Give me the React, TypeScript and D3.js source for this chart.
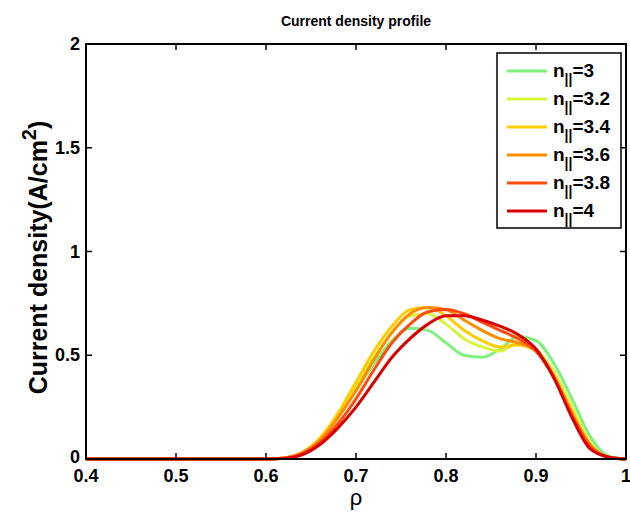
import React from "react";
import * as d3 from "d3";

const rho = [0.4, 0.6, 0.62, 0.64, 0.66, 0.68, 0.7, 0.72, 0.74, 0.76, 0.78, 0.8, 0.82, 0.84, 0.86, 0.88, 0.9, 0.92, 0.94, 0.96, 0.98, 1.0];

const nLabels = ["3", "3.2", "3.4", "3.6", "3.8", "4"];
const colors = ["#7ef07e", "#d8f53c", "#ffcc00", "#ff8c00", "#ff4a10", "#d80000"];

const j30 = [0, 0, 0.005, 0.03, 0.1, 0.2, 0.33, 0.46, 0.57, 0.63, 0.62, 0.56, 0.5, 0.49, 0.53, 0.59, 0.57, 0.46, 0.29, 0.11, 0.015, 0];
const j32 = [0, 0, 0.005, 0.03, 0.1, 0.21, 0.35, 0.49, 0.61, 0.69, 0.7, 0.65, 0.58, 0.54, 0.52, 0.56, 0.53, 0.42, 0.25, 0.08, 0.01, 0];
const j34 = [0, 0, 0.005, 0.03, 0.1, 0.22, 0.37, 0.52, 0.64, 0.72, 0.73, 0.69, 0.62, 0.57, 0.54, 0.55, 0.52, 0.4, 0.23, 0.07, 0.01, 0];
const j36 = [0, 0, 0.005, 0.03, 0.09, 0.2, 0.33, 0.48, 0.61, 0.7, 0.73, 0.72, 0.67, 0.62, 0.58, 0.56, 0.52, 0.4, 0.22, 0.07, 0.01, 0];
const j38 = [0, 0, 0.004, 0.025, 0.08, 0.17, 0.29, 0.43, 0.56, 0.65, 0.71, 0.72, 0.7, 0.66, 0.62, 0.58, 0.52, 0.39, 0.21, 0.06, 0.01, 0];
const j40 = [0, 0, 0.003, 0.02, 0.07, 0.15, 0.25, 0.37, 0.49, 0.58, 0.65, 0.69, 0.69, 0.67, 0.64, 0.6, 0.53, 0.39, 0.2, 0.05, 0.01, 0];
const series = [j30, j32, j34, j36, j38, j40];

const xTicks = [0.4, 0.5, 0.6, 0.7, 0.8, 0.9, 1];
const yTicks = [0, 0.5, 1, 1.5, 2];

const W = 630, H = 518;
const L = 86, R = 626, T = 44, B = 459;

export default function App() {
  const x = d3.scaleLinear().domain([0.4, 1]).range([L, R]);
  const y = d3.scaleLinear().domain([0, 2]).range([B, T]);
  const line = d3.line<number>().x((_, i) => x(rho[i])).y(d => y(d)).curve(d3.curveMonotoneX);
  const font = "Liberation Sans, Arial, sans-serif";
  const legX = 497, legY = 53, legW = 124, legH = 175, rowH = 28;
  return (
    <svg width={W} height={H} style={{ position: "absolute", left: 0, top: 0 }} fontFamily={font}>
      <rect x={0} y={0} width={W} height={H} fill="#fff" />
      <text x={(L + R) / 2} y={26} textAnchor="middle" fontSize={14} fontWeight="bold">Current density profile</text>
      {series.map((s, k) => (
        <path key={k} d={line(s) || ""} fill="none" stroke={colors[k]} strokeWidth={3} strokeLinejoin="round" />
      ))}
      <rect x={L} y={T} width={R - L} height={B - T} fill="none" stroke="#000" strokeWidth={2} />
      {xTicks.map(t => (
        <g key={"x" + t}>
          <line x1={x(t)} x2={x(t)} y1={B} y2={B - 6} stroke="#000" strokeWidth={1.5} />
          <line x1={x(t)} x2={x(t)} y1={T} y2={T + 6} stroke="#000" strokeWidth={1.5} />
          <text x={x(t)} y={B + 23} textAnchor="middle" fontSize={18} fontWeight="bold">{String(t)}</text>
        </g>
      ))}
      {yTicks.map(t => (
        <g key={"y" + t}>
          <line x1={L} x2={L + 6} y1={y(t)} y2={y(t)} stroke="#000" strokeWidth={1.5} />
          <line x1={R} x2={R - 6} y1={y(t)} y2={y(t)} stroke="#000" strokeWidth={1.5} />
          <text x={L - 6} y={y(t) + (t === 0 ? 4 : 6)} textAnchor="end" fontSize={18} fontWeight="bold">{String(t)}</text>
        </g>
      ))}
      <text x={(L + R) / 2} y={505} textAnchor="middle" fontSize={22}>ρ</text>
      <text transform={`translate(47,${(T + B) / 2 + 6}) rotate(-90)`} textAnchor="middle" fontSize={25} fontWeight="bold">
        Current density(A/cm<tspan dy={-11} fontSize={20}>2</tspan><tspan dy={11}>)</tspan>
      </text>
      <rect x={legX} y={legY} width={legW} height={legH} fill="#fff" stroke="#000" strokeWidth={1.5} />
      {nLabels.map((n, k) => {
        const cy = legY + 18 + k * rowH;
        return (
          <g key={"l" + k}>
            <line x1={507} x2={547} y1={cy} y2={cy} stroke={colors[k]} strokeWidth={3} />
            <text x={553} y={cy + 6} fontSize={19} fontWeight="bold">
              n<tspan dy={7} fontSize={14}>||</tspan><tspan dy={-7}>={n}</tspan>
            </text>
          </g>
        );
      })}
    </svg>
  );
}
